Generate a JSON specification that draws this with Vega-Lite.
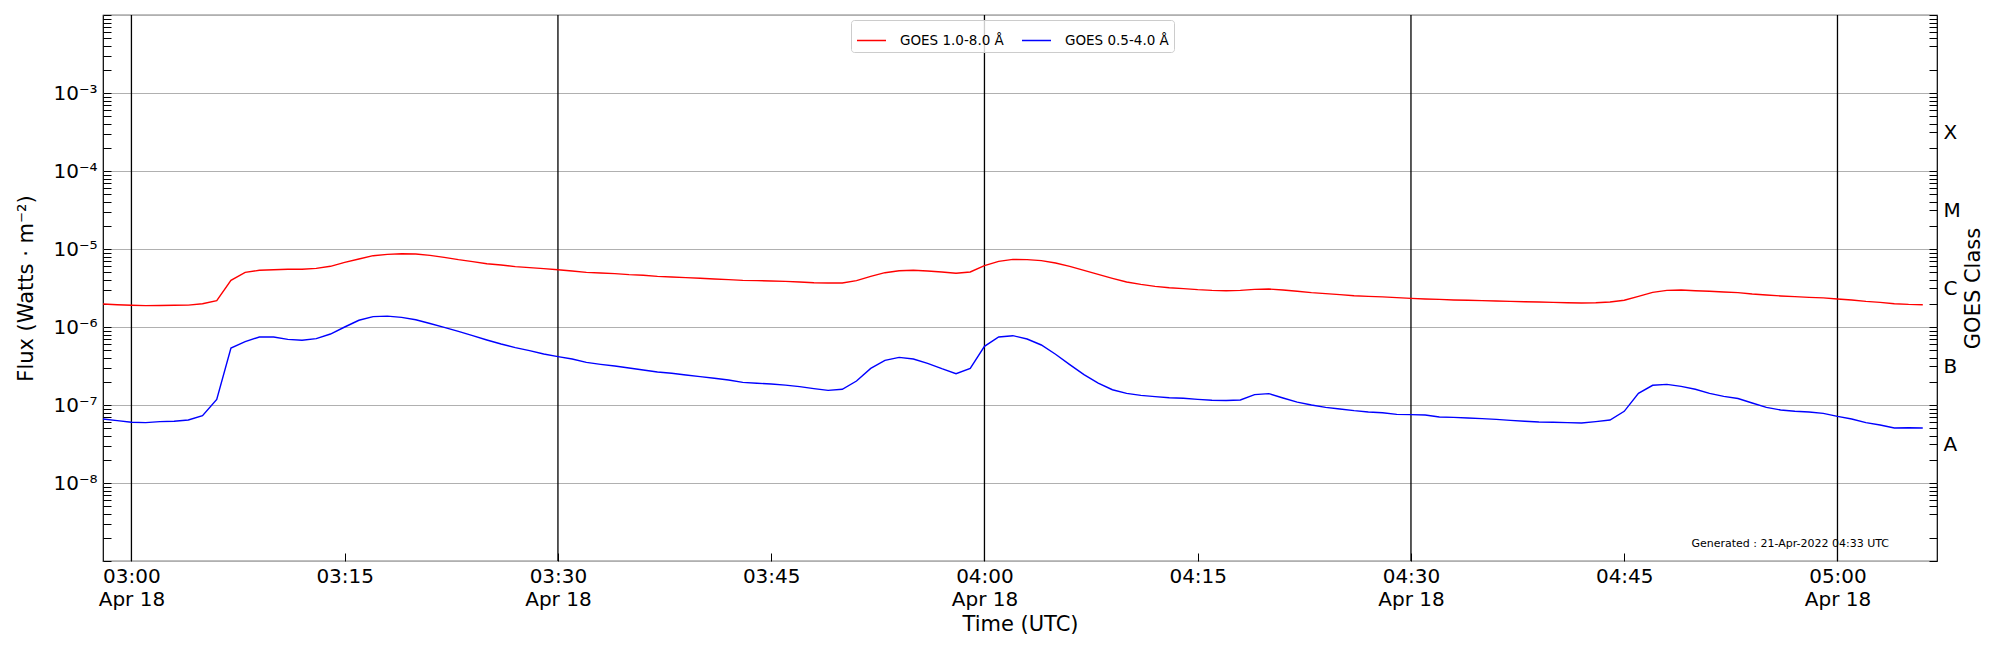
{
  "$schema": "https://vega.github.io/schema/vega-lite/v6.json",
  "width": 1834,
  "height": 546,
  "autosize": {"type": "none"},
  "padding": {"left": 103, "top": 15, "right": 63, "bottom": 89},
  "title": {
    "text": "Generated : 21-Apr-2022 04:33 UTC",
    "orient": "bottom",
    "anchor": "end",
    "frame": "group",
    "offset": -87,
    "dx": -48,
    "baseline": "alphabetic",
    "font": "DejaVu Sans",
    "fontSize": 11,
    "fontWeight": "normal",
    "color": "black"
  },
  "config": {
    "font": "DejaVu Sans",
    "view": {"stroke": "black", "strokeWidth": 1.2},
    "axis": {
      "labelFont": "DejaVu Sans",
      "titleFont": "DejaVu Sans",
      "labelFontSize": 20,
      "titleFontSize": 21,
      "titleFontWeight": "normal",
      "labelColor": "black",
      "titleColor": "black",
      "tickColor": "black",
      "domain": false,
      "tickWidth": 1,
      "labelOverlap": false,
      "labelFlush": false,
      "labelBound": false
    }
  },
  "encoding": {
    "x": {
      "field": "t",
      "type": "temporal",
      "scale": {
        "domain": [
          {"year": 2022, "month": 4, "date": 18, "hours": 2, "minutes": 58},
          {"year": 2022, "month": 4, "date": 18, "hours": 5, "minutes": 7}
        ]
      },
      "axis": {
        "title": "Time (UTC)",
        "titleY": 71,
        "titleBaseline": "middle",
        "grid": false,
        "offset": -8,
        "tickSize": 8,
        "labelPadding": 5,
        "labelLineHeight": 23,
        "values": [
          {"year": 2022, "month": 4, "date": 18, "hours": 3, "minutes": 0},
          {"year": 2022, "month": 4, "date": 18, "hours": 3, "minutes": 15},
          {"year": 2022, "month": 4, "date": 18, "hours": 3, "minutes": 30},
          {"year": 2022, "month": 4, "date": 18, "hours": 3, "minutes": 45},
          {"year": 2022, "month": 4, "date": 18, "hours": 4, "minutes": 0},
          {"year": 2022, "month": 4, "date": 18, "hours": 4, "minutes": 15},
          {"year": 2022, "month": 4, "date": 18, "hours": 4, "minutes": 30},
          {"year": 2022, "month": 4, "date": 18, "hours": 4, "minutes": 45},
          {"year": 2022, "month": 4, "date": 18, "hours": 5, "minutes": 0}
        ],
        "labelExpr": "minutes(datum.value) % 30 == 0 ? [timeFormat(datum.value, '%H:%M'), timeFormat(datum.value, '%b %d')] : timeFormat(datum.value, '%H:%M')"
      }
    }
  },
  "layer": [
    {
      "data": {
        "values": [
          {"t": "2022-04-18T03:00:00"},
          {"t": "2022-04-18T03:30:00"},
          {"t": "2022-04-18T04:00:00"},
          {"t": "2022-04-18T04:30:00"},
          {"t": "2022-04-18T05:00:00"}
        ]
      },
      "mark": {"type": "rule", "color": "black", "strokeWidth": 1.3},
      "encoding": {
        "y": {
          "datum": 1e-9,
          "type": "quantitative",
          "axis": {
            "orient": "right",
            "title": "GOES Class",
            "titleAngle": 270,
            "titleX": 44,
            "titleY": 273,
            "titleAlign": "center",
            "titleBaseline": "middle",
            "grid": false,
            "offset": -8,
            "tickSize": 8,
            "labelPadding": 6,
            "labelBaseline": "middle",
            "values": [
              1e-9, 2e-9, 4e-9, 5e-9, 6e-9, 7e-9, 8e-9, 9e-9,
              1e-8, 2e-8, 4e-8, 5e-8, 6e-8, 7e-8, 8e-8, 9e-8,
              1e-7, 2e-7, 4e-7, 5e-7, 6e-7, 7e-7, 8e-7, 9e-7,
              1e-6, 2e-6, 4e-6, 5e-6, 6e-6, 7e-6, 8e-6, 9e-6,
              1e-5, 2e-5, 4e-5, 5e-5, 6e-5, 7e-5, 8e-5, 9e-5,
              1e-4, 2e-4, 4e-4, 5e-4, 6e-4, 7e-4, 8e-4, 9e-4,
              1e-3, 2e-3, 4e-3, 5e-3, 6e-3, 7e-3, 8e-3, 9e-3, 1e-2,
              3.1622777e-8, 3.1622777e-7, 3.1622777e-6, 3.1622777e-5, 3.1622777e-4
            ],
            "labelExpr": "abs(log(datum.value)/LN10 - floor(log(datum.value)/LN10) - 0.5) < 0.01 ? ['A','B','C','M','X'][floor(log(datum.value)/LN10) + 8] : ''"
          }
        },
        "y2": {"datum": 1e-2}
      }
    },
    {
      "data": {
        "values": [
          {"t": "2022-04-18T02:58:00", "xrsb": 1.97e-6, "xrsa": 6.62e-8},
          {"t": "2022-04-18T02:59:00", "xrsb": 1.93e-6, "xrsa": 6.30e-8},
          {"t": "2022-04-18T03:00:00", "xrsb": 1.90e-6, "xrsa": 6.00e-8},
          {"t": "2022-04-18T03:01:00", "xrsb": 1.88e-6, "xrsa": 5.94e-8},
          {"t": "2022-04-18T03:02:00", "xrsb": 1.89e-6, "xrsa": 6.12e-8},
          {"t": "2022-04-18T03:03:00", "xrsb": 1.90e-6, "xrsa": 6.18e-8},
          {"t": "2022-04-18T03:04:00", "xrsb": 1.91e-6, "xrsa": 6.42e-8},
          {"t": "2022-04-18T03:05:00", "xrsb": 1.99e-6, "xrsa": 7.30e-8},
          {"t": "2022-04-18T03:06:00", "xrsb": 2.18e-6, "xrsa": 1.18e-7},
          {"t": "2022-04-18T03:07:00", "xrsb": 3.96e-6, "xrsa": 5.38e-7},
          {"t": "2022-04-18T03:08:00", "xrsb": 5.02e-6, "xrsa": 6.49e-7},
          {"t": "2022-04-18T03:09:00", "xrsb": 5.33e-6, "xrsa": 7.45e-7},
          {"t": "2022-04-18T03:10:00", "xrsb": 5.43e-6, "xrsa": 7.45e-7},
          {"t": "2022-04-18T03:11:00", "xrsb": 5.49e-6, "xrsa": 6.95e-7},
          {"t": "2022-04-18T03:12:00", "xrsb": 5.51e-6, "xrsa": 6.75e-7},
          {"t": "2022-04-18T03:13:00", "xrsb": 5.65e-6, "xrsa": 7.09e-7},
          {"t": "2022-04-18T03:14:00", "xrsb": 6.00e-6, "xrsa": 8.13e-7},
          {"t": "2022-04-18T03:15:00", "xrsb": 6.75e-6, "xrsa": 1.00e-6},
          {"t": "2022-04-18T03:16:00", "xrsb": 7.45e-6, "xrsa": 1.22e-6},
          {"t": "2022-04-18T03:17:00", "xrsb": 8.21e-6, "xrsa": 1.36e-6},
          {"t": "2022-04-18T03:18:00", "xrsb": 8.54e-6, "xrsa": 1.38e-6},
          {"t": "2022-04-18T03:19:00", "xrsb": 8.71e-6, "xrsa": 1.33e-6},
          {"t": "2022-04-18T03:20:00", "xrsb": 8.63e-6, "xrsa": 1.24e-6},
          {"t": "2022-04-18T03:21:00", "xrsb": 8.29e-6, "xrsa": 1.11e-6},
          {"t": "2022-04-18T03:22:00", "xrsb": 7.82e-6, "xrsa": 9.90e-7},
          {"t": "2022-04-18T03:23:00", "xrsb": 7.30e-6, "xrsa": 8.80e-7},
          {"t": "2022-04-18T03:24:00", "xrsb": 6.88e-6, "xrsa": 7.74e-7},
          {"t": "2022-04-18T03:25:00", "xrsb": 6.48e-6, "xrsa": 6.81e-7},
          {"t": "2022-04-18T03:26:00", "xrsb": 6.24e-6, "xrsa": 6.05e-7},
          {"t": "2022-04-18T03:27:00", "xrsb": 5.94e-6, "xrsa": 5.43e-7},
          {"t": "2022-04-18T03:28:00", "xrsb": 5.77e-6, "xrsa": 4.97e-7},
          {"t": "2022-04-18T03:29:00", "xrsb": 5.60e-6, "xrsa": 4.51e-7},
          {"t": "2022-04-18T03:30:00", "xrsb": 5.43e-6, "xrsa": 4.17e-7},
          {"t": "2022-04-18T03:31:00", "xrsb": 5.22e-6, "xrsa": 3.89e-7},
          {"t": "2022-04-18T03:32:00", "xrsb": 5.02e-6, "xrsa": 3.52e-7},
          {"t": "2022-04-18T03:33:00", "xrsb": 4.92e-6, "xrsa": 3.32e-7},
          {"t": "2022-04-18T03:34:00", "xrsb": 4.83e-6, "xrsa": 3.16e-7},
          {"t": "2022-04-18T03:35:00", "xrsb": 4.69e-6, "xrsa": 2.98e-7},
          {"t": "2022-04-18T03:36:00", "xrsb": 4.60e-6, "xrsa": 2.81e-7},
          {"t": "2022-04-18T03:37:00", "xrsb": 4.46e-6, "xrsa": 2.65e-7},
          {"t": "2022-04-18T03:38:00", "xrsb": 4.38e-6, "xrsa": 2.55e-7},
          {"t": "2022-04-18T03:39:00", "xrsb": 4.29e-6, "xrsa": 2.42e-7},
          {"t": "2022-04-18T03:40:00", "xrsb": 4.21e-6, "xrsa": 2.31e-7},
          {"t": "2022-04-18T03:41:00", "xrsb": 4.13e-6, "xrsa": 2.20e-7},
          {"t": "2022-04-18T03:42:00", "xrsb": 4.05e-6, "xrsa": 2.09e-7},
          {"t": "2022-04-18T03:43:00", "xrsb": 3.96e-6, "xrsa": 1.95e-7},
          {"t": "2022-04-18T03:44:00", "xrsb": 3.93e-6, "xrsa": 1.90e-7},
          {"t": "2022-04-18T03:45:00", "xrsb": 3.89e-6, "xrsa": 1.86e-7},
          {"t": "2022-04-18T03:46:00", "xrsb": 3.85e-6, "xrsa": 1.80e-7},
          {"t": "2022-04-18T03:47:00", "xrsb": 3.78e-6, "xrsa": 1.72e-7},
          {"t": "2022-04-18T03:48:00", "xrsb": 3.70e-6, "xrsa": 1.62e-7},
          {"t": "2022-04-18T03:49:00", "xrsb": 3.66e-6, "xrsa": 1.54e-7},
          {"t": "2022-04-18T03:50:00", "xrsb": 3.66e-6, "xrsa": 1.59e-7},
          {"t": "2022-04-18T03:51:00", "xrsb": 3.93e-6, "xrsa": 2.03e-7},
          {"t": "2022-04-18T03:52:00", "xrsb": 4.46e-6, "xrsa": 2.95e-7},
          {"t": "2022-04-18T03:53:00", "xrsb": 4.97e-6, "xrsa": 3.74e-7},
          {"t": "2022-04-18T03:54:00", "xrsb": 5.27e-6, "xrsa": 4.08e-7},
          {"t": "2022-04-18T03:55:00", "xrsb": 5.33e-6, "xrsa": 3.89e-7},
          {"t": "2022-04-18T03:56:00", "xrsb": 5.22e-6, "xrsa": 3.42e-7},
          {"t": "2022-04-18T03:57:00", "xrsb": 5.07e-6, "xrsa": 2.92e-7},
          {"t": "2022-04-18T03:58:00", "xrsb": 4.88e-6, "xrsa": 2.52e-7},
          {"t": "2022-04-18T03:59:00", "xrsb": 5.07e-6, "xrsa": 2.95e-7},
          {"t": "2022-04-18T04:00:00", "xrsb": 6.11e-6, "xrsa": 5.65e-7},
          {"t": "2022-04-18T04:01:00", "xrsb": 6.95e-6, "xrsa": 7.45e-7},
          {"t": "2022-04-18T04:02:00", "xrsb": 7.35e-6, "xrsa": 7.74e-7},
          {"t": "2022-04-18T04:03:00", "xrsb": 7.30e-6, "xrsa": 7.02e-7},
          {"t": "2022-04-18T04:04:00", "xrsb": 7.09e-6, "xrsa": 5.88e-7},
          {"t": "2022-04-18T04:05:00", "xrsb": 6.61e-6, "xrsa": 4.47e-7},
          {"t": "2022-04-18T04:06:00", "xrsb": 6.00e-6, "xrsa": 3.29e-7},
          {"t": "2022-04-18T04:07:00", "xrsb": 5.33e-6, "xrsa": 2.45e-7},
          {"t": "2022-04-18T04:08:00", "xrsb": 4.73e-6, "xrsa": 1.91e-7},
          {"t": "2022-04-18T04:09:00", "xrsb": 4.21e-6, "xrsa": 1.57e-7},
          {"t": "2022-04-18T04:10:00", "xrsb": 3.78e-6, "xrsa": 1.41e-7},
          {"t": "2022-04-18T04:11:00", "xrsb": 3.52e-6, "xrsa": 1.33e-7},
          {"t": "2022-04-18T04:12:00", "xrsb": 3.32e-6, "xrsa": 1.28e-7},
          {"t": "2022-04-18T04:13:00", "xrsb": 3.19e-6, "xrsa": 1.24e-7},
          {"t": "2022-04-18T04:14:00", "xrsb": 3.10e-6, "xrsa": 1.22e-7},
          {"t": "2022-04-18T04:15:00", "xrsb": 3.01e-6, "xrsa": 1.18e-7},
          {"t": "2022-04-18T04:16:00", "xrsb": 2.95e-6, "xrsa": 1.15e-7},
          {"t": "2022-04-18T04:17:00", "xrsb": 2.92e-6, "xrsa": 1.14e-7},
          {"t": "2022-04-18T04:18:00", "xrsb": 2.95e-6, "xrsa": 1.16e-7},
          {"t": "2022-04-18T04:19:00", "xrsb": 3.04e-6, "xrsa": 1.36e-7},
          {"t": "2022-04-18T04:20:00", "xrsb": 3.07e-6, "xrsa": 1.40e-7},
          {"t": "2022-04-18T04:21:00", "xrsb": 2.98e-6, "xrsa": 1.23e-7},
          {"t": "2022-04-18T04:22:00", "xrsb": 2.87e-6, "xrsa": 1.09e-7},
          {"t": "2022-04-18T04:23:00", "xrsb": 2.76e-6, "xrsa": 1.00e-7},
          {"t": "2022-04-18T04:24:00", "xrsb": 2.68e-6, "xrsa": 9.33e-8},
          {"t": "2022-04-18T04:25:00", "xrsb": 2.60e-6, "xrsa": 8.89e-8},
          {"t": "2022-04-18T04:26:00", "xrsb": 2.52e-6, "xrsa": 8.46e-8},
          {"t": "2022-04-18T04:27:00", "xrsb": 2.47e-6, "xrsa": 8.13e-8},
          {"t": "2022-04-18T04:28:00", "xrsb": 2.43e-6, "xrsa": 7.97e-8},
          {"t": "2022-04-18T04:29:00", "xrsb": 2.38e-6, "xrsa": 7.59e-8},
          {"t": "2022-04-18T04:30:00", "xrsb": 2.33e-6, "xrsa": 7.52e-8},
          {"t": "2022-04-18T04:31:00", "xrsb": 2.29e-6, "xrsa": 7.44e-8},
          {"t": "2022-04-18T04:32:00", "xrsb": 2.26e-6, "xrsa": 7.02e-8},
          {"t": "2022-04-18T04:33:00", "xrsb": 2.22e-6, "xrsa": 6.95e-8},
          {"t": "2022-04-18T04:34:00", "xrsb": 2.20e-6, "xrsa": 6.81e-8},
          {"t": "2022-04-18T04:35:00", "xrsb": 2.18e-6, "xrsa": 6.68e-8},
          {"t": "2022-04-18T04:36:00", "xrsb": 2.15e-6, "xrsa": 6.55e-8},
          {"t": "2022-04-18T04:37:00", "xrsb": 2.13e-6, "xrsa": 6.36e-8},
          {"t": "2022-04-18T04:38:00", "xrsb": 2.11e-6, "xrsa": 6.18e-8},
          {"t": "2022-04-18T04:39:00", "xrsb": 2.09e-6, "xrsa": 6.06e-8},
          {"t": "2022-04-18T04:40:00", "xrsb": 2.07e-6, "xrsa": 6.00e-8},
          {"t": "2022-04-18T04:41:00", "xrsb": 2.05e-6, "xrsa": 5.94e-8},
          {"t": "2022-04-18T04:42:00", "xrsb": 2.03e-6, "xrsa": 5.88e-8},
          {"t": "2022-04-18T04:43:00", "xrsb": 2.05e-6, "xrsa": 6.12e-8},
          {"t": "2022-04-18T04:44:00", "xrsb": 2.09e-6, "xrsa": 6.42e-8},
          {"t": "2022-04-18T04:45:00", "xrsb": 2.20e-6, "xrsa": 8.30e-8},
          {"t": "2022-04-18T04:46:00", "xrsb": 2.47e-6, "xrsa": 1.41e-7},
          {"t": "2022-04-18T04:47:00", "xrsb": 2.78e-6, "xrsa": 1.79e-7},
          {"t": "2022-04-18T04:48:00", "xrsb": 2.95e-6, "xrsa": 1.84e-7},
          {"t": "2022-04-18T04:49:00", "xrsb": 2.98e-6, "xrsa": 1.73e-7},
          {"t": "2022-04-18T04:50:00", "xrsb": 2.92e-6, "xrsa": 1.59e-7},
          {"t": "2022-04-18T04:51:00", "xrsb": 2.87e-6, "xrsa": 1.41e-7},
          {"t": "2022-04-18T04:52:00", "xrsb": 2.81e-6, "xrsa": 1.29e-7},
          {"t": "2022-04-18T04:53:00", "xrsb": 2.76e-6, "xrsa": 1.21e-7},
          {"t": "2022-04-18T04:54:00", "xrsb": 2.65e-6, "xrsa": 1.06e-7},
          {"t": "2022-04-18T04:55:00", "xrsb": 2.57e-6, "xrsa": 9.33e-8},
          {"t": "2022-04-18T04:56:00", "xrsb": 2.50e-6, "xrsa": 8.63e-8},
          {"t": "2022-04-18T04:57:00", "xrsb": 2.45e-6, "xrsa": 8.30e-8},
          {"t": "2022-04-18T04:58:00", "xrsb": 2.40e-6, "xrsa": 8.13e-8},
          {"t": "2022-04-18T04:59:00", "xrsb": 2.36e-6, "xrsa": 7.82e-8},
          {"t": "2022-04-18T05:00:00", "xrsb": 2.29e-6, "xrsa": 7.16e-8},
          {"t": "2022-04-18T05:01:00", "xrsb": 2.22e-6, "xrsa": 6.62e-8},
          {"t": "2022-04-18T05:02:00", "xrsb": 2.13e-6, "xrsa": 5.94e-8},
          {"t": "2022-04-18T05:03:00", "xrsb": 2.07e-6, "xrsa": 5.54e-8},
          {"t": "2022-04-18T05:04:00", "xrsb": 1.99e-6, "xrsa": 5.07e-8},
          {"t": "2022-04-18T05:05:00", "xrsb": 1.95e-6, "xrsa": 5.12e-8},
          {"t": "2022-04-18T05:06:00", "xrsb": 1.93e-6, "xrsa": 5.07e-8}
        ]
      },
      "transform": [{"fold": ["xrsb", "xrsa"], "as": ["channel", "flux"]}],
      "mark": {"type": "line", "strokeWidth": 1.4},
      "encoding": {
        "y": {
          "field": "flux",
          "type": "quantitative",
          "scale": {"type": "log", "domain": [1e-9, 1e-2]},
          "axis": {
            "orient": "left",
            "title": "Flux (Watts · m⁻²)",
            "titleAngle": 270,
            "titleX": -85,
            "titleY": 273,
            "titleAlign": "center",
            "titleBaseline": "middle",
            "offset": -8,
            "tickSize": 8,
            "labelPadding": 6,
            "labelBaseline": "middle",
            "grid": true,
            "gridColor": "#b0b0b0",
            "gridWidth": 1,
            "gridOpacity": {
              "condition": {"test": "abs(log(datum.value)/LN10 - round(log(datum.value)/LN10)) < 0.01", "value": 1},
              "value": 0
            },
            "values": [
              1e-9, 2e-9, 3e-9, 4e-9, 5e-9, 6e-9, 7e-9, 8e-9, 9e-9,
              1e-8, 2e-8, 3e-8, 4e-8, 5e-8, 6e-8, 7e-8, 8e-8, 9e-8,
              1e-7, 2e-7, 3e-7, 4e-7, 5e-7, 6e-7, 7e-7, 8e-7, 9e-7,
              1e-6, 2e-6, 3e-6, 4e-6, 5e-6, 6e-6, 7e-6, 8e-6, 9e-6,
              1e-5, 2e-5, 3e-5, 4e-5, 5e-5, 6e-5, 7e-5, 8e-5, 9e-5,
              1e-4, 2e-4, 3e-4, 4e-4, 5e-4, 6e-4, 7e-4, 8e-4, 9e-4,
              1e-3, 2e-3, 3e-3, 4e-3, 5e-3, 6e-3, 7e-3, 8e-3, 9e-3, 1e-2
            ],
            "labelExpr": "abs(log(datum.value)/LN10 - round(log(datum.value)/LN10)) < 0.01 && round(log(datum.value)/LN10) >= -8 && round(log(datum.value)/LN10) <= -3 ? '10⁻' + ['⁰','¹','²','³','⁴','⁵','⁶','⁷','⁸','⁹'][-round(log(datum.value)/LN10)] : ''"
          }
        },
        "color": {
          "field": "channel",
          "type": "nominal",
          "scale": {"domain": ["xrsb", "xrsa"], "range": ["#ff0000", "#0000ff"]},
          "legend": {
            "title": null,
            "orient": "none",
            "legendX": 748,
            "legendY": 5,
            "direction": "horizontal",
            "symbolType": "stroke",
            "symbolSize": 841,
            "symbolStrokeWidth": 1.5,
            "labelFont": "DejaVu Sans",
            "labelFontSize": 13.5,
            "labelColor": "black",
            "labelOffset": 13,
            "columnPadding": 15,
            "padding": 5,
            "fillColor": "rgba(255,255,255,0.8)",
            "strokeColor": "#cccccc",
            "cornerRadius": 3,
            "labelExpr": "datum.value == 'xrsb' ? 'GOES 1.0-8.0 Å' : 'GOES 0.5-4.0 Å'"
          }
        }
      }
    }
  ],
  "resolve": {"axis": {"y": "independent"}}
}
